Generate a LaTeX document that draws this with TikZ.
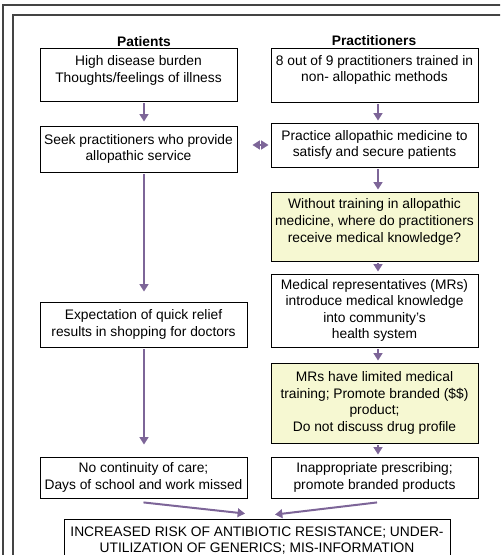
\documentclass[tikz,border=0pt]{standalone}
\usepackage{fontspec}
\setmainfont{Liberation Sans}
\usetikzlibrary{arrows.meta}
\usepackage{xcolor}
\definecolor{flowline}{HTML}{7D6598}
\definecolor{qfill}{HTML}{F6F8D2}
\definecolor{frameline}{HTML}{444444}
% extra depth under the last line, to lift the text in its box
\newcommand{\padlow}[1]{\rule[-#1]{0pt}{0pt}}

\begin{document}
\begin{tikzpicture}[x=0.75pt,y=-0.75pt,
  box/.style={draw=black, line width=0.65pt, fill=white, align=center, inner sep=0pt, minimum width=155.25pt, font=\fontsize{10.35}{12.4}\selectfont},
  qbox/.style={box, fill=qfill},
  head/.style={inner sep=0pt, font=\fontsize{10.35}{12.4}\selectfont\bfseries},
  flow/.style={draw=flowline, line width=1.5pt, -{Triangle[length=5.5pt,width=6.5pt]}, shorten <=1.5pt, shorten >=1.5pt}]
\useasboundingbox (0,0) rectangle (500,555);
\clip (0,0) rectangle (500,555);
% page frames
\draw[frameline, line width=0.8pt] (3,5) rectangle (520,580);
\draw[frameline, line width=0.8pt] (13,15) rectangle (520,580);
\coordinate (lx) at (144,0);
\coordinate (rx) at (378,0);
% column heads
\node[head] (pathead) at (144,42) {Patients};
\node[head] (prahead) at (374,41) {Practitioners};
% patients
\node[box, minimum width=147.75pt, minimum height=39.75pt] (burden) at (138.5,74.5) {High disease burden\\Thoughts/feelings of illness\padlow{8pt}};
\node[box, minimum width=147.75pt, minimum height=34.5pt] (seek) at (138.5,149) {Seek practitioners who provide\\allopathic service};
\node[box, minimum height=33.75pt] (expect) at (143.5,324.5) {Expectation of quick relief\\results in shopping for doctors};
\node[box, minimum height=30.75pt] (nocare) at (143.5,477.5) {No continuity of care;\\Days of school and work missed};
% practitioners
\node[box, minimum height=40.5pt] (trained) at (374.5,75) {8 out of 9 practitioners trained in\\non- allopathic methods\padlow{9.5pt}};
\node[box, minimum height=33pt] (practice) at (374.5,145) {Practice allopathic medicine to\\satisfy and secure patients};
\node[qbox, minimum height=51.75pt] (where) at (374.5,226.5) {Without training in allopathic\\medicine, where do practitioners\\receive medical knowledge?\padlow{9pt}};
\node[box, minimum height=54.75pt] (mrs) at (374.5,310.5) {Medical representatives (MRs)\\introduce medical knowledge\\into community's\\health system};
\node[qbox, minimum height=60pt] (limited) at (374.5,403) {MRs have limited medical\\training; Promote branded (\$\$)\\product;\\Do not discuss drug profile};
\node[box, minimum height=30.75pt] (prescr) at (374.5,477.5) {Inappropriate prescribing;\\promote branded products};
% outcome
\node[box, minimum width=289.5pt, minimum height=32.25pt] (risk) at (257,540.5) {INCREASED RISK OF ANTIBIOTIC RESISTANCE; UNDER-\\UTILIZATION OF GENERICS; MIS-INFORMATION};
% flows
\draw[flow, shorten >=3pt] (burden.south -| lx) -- (seek.north -| lx);
\draw[flow, shorten >=7.5pt] (seek.south -| lx) -- (expect.north -| lx);
\draw[flow, shorten >=9pt] (expect.south -| lx) -- (nocare.north -| lx);
\draw[flow] (trained.south -| rx) -- (practice.north -| rx);
\draw[flow] (practice.south -| rx) -- (where.north -| rx);
\draw[flow] (where.south -| rx) -- (mrs.north -| rx);
\draw[flow] (mrs.south -| rx) -- (limited.north -| rx);
\draw[flow] (limited.south -| rx) -- (prescr.north -| rx);
\draw[flow, {Triangle[length=5.5pt,width=6.5pt]}-{Triangle[length=5.5pt,width=6.5pt]}, shorten <=1.5pt, shorten >=11.25pt] (practice.west) -- (practice.west -| seek.east);
\draw[flow, shorten <=0pt, shorten >=0pt] ([yshift=-3pt]nocare.south) -- ([xshift=-9pt,yshift=3.75pt]risk.north);
\draw[flow, shorten <=0pt, shorten >=0pt] ([xshift=1.9pt,yshift=-3pt]prescr.south) -- ([xshift=13.5pt,yshift=3pt]risk.north);
\end{tikzpicture}
\end{document}
